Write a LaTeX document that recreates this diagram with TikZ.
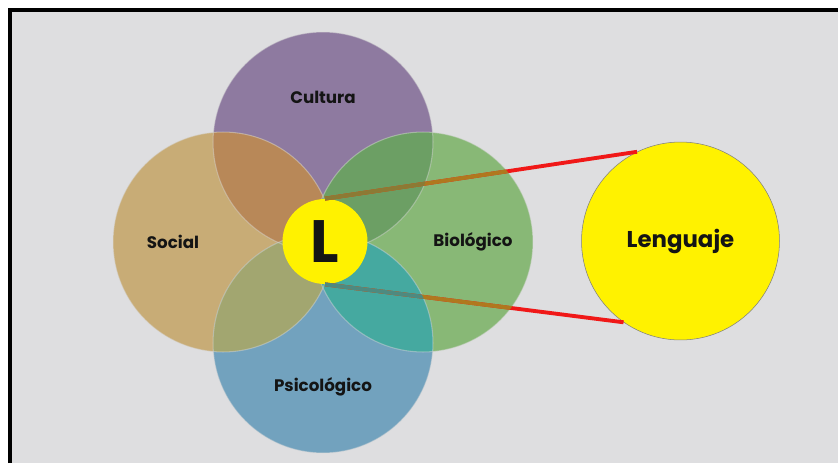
\documentclass[tikz,border=0pt]{standalone}
\usepackage{fontspec}
\setmainfont{Poppins}
\usetikzlibrary{positioning}

\definecolor{bgfill}{HTML}{DEDEE0}
\definecolor{cul}{HTML}{8E7AA0}
\definecolor{soc}{HTML}{C8AC76}
\definecolor{bio}{HTML}{88B876}
\definecolor{psi}{HTML}{72A2BE}
\definecolor{culsoc}{HTML}{B88858}
\definecolor{culbio}{HTML}{6C9F64}
\definecolor{socpsi}{HTML}{A2A670}
\definecolor{biopsi}{HTML}{45A9A0}
\definecolor{linkred}{HTML}{F01818}
\definecolor{linkbrn}{HTML}{B0781E}
\definecolor{linkdark}{HTML}{8C7A34}
\definecolor{linkteal}{HTML}{4E8A80}
\definecolor{txtcol}{HTML}{141414}

\tikzset{
  sphere/.style={circle, minimum size=4.4cm, inner sep=0pt},
  rim/.style={draw=white!70!gray, draw opacity=0.45, line width=0.6pt},
  lbl/.style={font=\fontsize{9.5}{11}\selectfont\bfseries, text=txtcol},
  link/.style={line width=2.2pt, draw=linkred},
}

\begin{document}
\begin{tikzpicture}[x=0.02cm, y=-0.02cm]
  \useasboundingbox (0,0) rectangle (838,463);
  \fill[white] (0,0) rectangle (838,463);
  \fill[bgfill] (10,10) rectangle (838,463);
  \draw[line width=1.8pt] (10,463) -- (10,10) -- (838,10);

  % the four spheres
  \node[sphere, fill=cul] (cul) at (323,142) {};
  \node[sphere, fill=soc] (soc) at (223,242) {};
  \node[sphere, fill=bio] (bio) at (423,242) {};
  \node[sphere, fill=psi] (psi) at (323,343) {};

  % overlaps
  \begin{scope}
    \clip (cul.center) circle[radius=2.2cm];
    \fill[culsoc] (soc.center) circle[radius=2.2cm];
    \fill[culbio] (bio.center) circle[radius=2.2cm];
  \end{scope}
  \begin{scope}
    \clip (psi.center) circle[radius=2.2cm];
    \fill[socpsi] (soc.center) circle[radius=2.2cm];
    \fill[biopsi] (bio.center) circle[radius=2.2cm];
  \end{scope}

  \foreach \c in {cul,soc,bio,psi}
    \draw[rim] (\c.center) circle[radius=2.2cm];

  \node[circle, fill=yellow, minimum size=1.7cm, inner sep=0pt,
    font=\fontsize{34}{34}\selectfont\bfseries, text=txtcol] (core) at (325,241.5) {L};
  \node[circle, fill=yellow, draw=gray, line width=0.3pt, minimum size=3.96cm,
    inner sep=0pt, lbl, font=\fontsize{13}{15}\selectfont\bfseries] (lang) at (680.5,241) {Lenguaje};

  % links
  \draw[link] (core.north) -- (lang.116.6);
  \draw[link] (core.south) -- (lang.235);
  \begin{scope}
    \clip (bio.center) circle[radius=2.2cm];
    \draw[link, draw=linkbrn] (core.north) -- (lang.116.6);
    \draw[link, draw=linkbrn] (core.south) -- (lang.235);
  \end{scope}
  \begin{scope}
    \clip (cul.center) circle[radius=2.2cm];
    \clip (bio.center) circle[radius=2.2cm];
    \draw[link, draw=linkdark] (core.north) -- (lang.116.6);
  \end{scope}
  \begin{scope}
    \clip (psi.center) circle[radius=2.2cm];
    \clip (bio.center) circle[radius=2.2cm];
    \draw[link, draw=linkteal] (core.south) -- (lang.235);
  \end{scope}

  \node[lbl] (cultxt) at ([yshift=0.9cm]cul.center) {Cultura};
  \node[lbl] (soctxt) at ([xshift=-1cm]soc.center) {Social};
  \node[lbl] (biotxt) at ([xshift=1cm]bio.center) {Biológico};
  \node[lbl] (psitxt) at ([yshift=-0.88cm]psi.center) {Psicológico};
\end{tikzpicture}
\end{document}
